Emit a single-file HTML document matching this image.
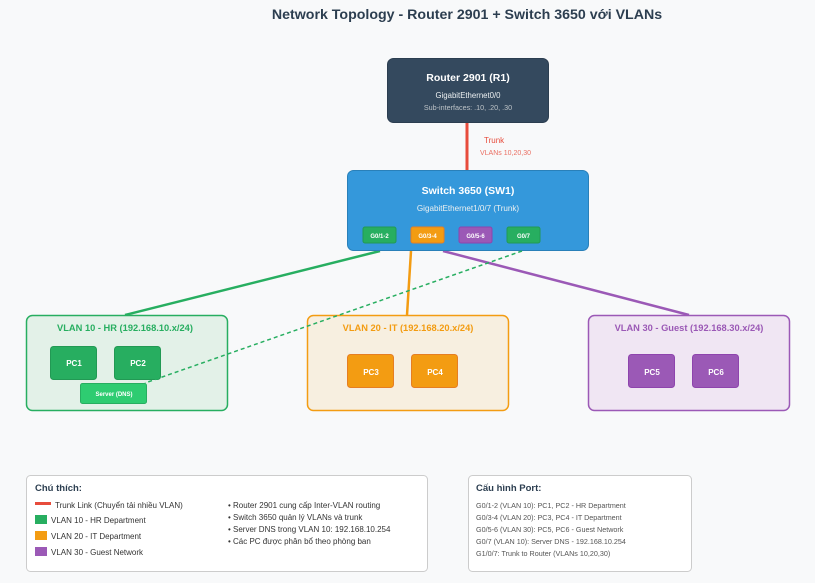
<!DOCTYPE html>
<html><head><meta charset="utf-8"><style>
html,body{margin:0;padding:0;background:#f8f9fa;}
svg{display:block;font-family:"Liberation Sans","DejaVu Sans",sans-serif;}
</style></head><body>
<svg width="815" height="583" viewBox="0 0 815 583" xmlns="http://www.w3.org/2000/svg">
<rect width="815" height="583" fill="#f8f9fa"/>
<text x="467" y="19" text-anchor="middle" font-size="14.2" font-weight="bold" fill="#2c3e50">Network Topology - Router 2901 + Switch 3650 với VLANs</text>

<line x1="467" y1="122" x2="467" y2="171" stroke="#e74c3c" stroke-width="3"/>
<text x="484" y="143" font-size="8" fill="#e74c3c">Trunk</text>
<text x="480" y="155" font-size="7" fill="#e74c3c" opacity="0.8">VLANs 10,20,30</text>

<line x1="380" y1="251" x2="125" y2="315" stroke="#27ae60" stroke-width="2.5"/>
<line x1="411" y1="251" x2="407" y2="315" stroke="#f39c12" stroke-width="2.5"/>
<line x1="443" y1="251" x2="689" y2="315" stroke="#9b59b6" stroke-width="2.5"/>

<rect x="387.5" y="58.5" width="161" height="64" rx="6" fill="#34495e" stroke="#2c3e50"/>
<text x="468" y="81" text-anchor="middle" font-size="10.5" font-weight="bold" fill="#fff">Router 2901 (R1)</text>
<text x="468" y="98" text-anchor="middle" font-size="7.8" fill="#ecf0f1">GigabitEthernet0/0</text>
<text x="468" y="110" text-anchor="middle" font-size="7.2" fill="#bdc3c7">Sub-interfaces: .10, .20, .30</text>

<rect x="347.5" y="170.5" width="241" height="80" rx="6" fill="#3498db" stroke="#2980b9"/>
<text x="468" y="194" text-anchor="middle" font-size="10.5" font-weight="bold" fill="#fff">Switch 3650 (SW1)</text>
<text x="468" y="211" text-anchor="middle" font-size="8.1" fill="#ecf0f1">GigabitEthernet1/0/7 (Trunk)</text>
<g font-size="6" font-weight="bold" fill="#fff" text-anchor="middle">
<rect x="363" y="227" width="33" height="16" rx="2" fill="#27ae60" stroke="#229954"/><text x="379.5" y="238">G0/1-2</text>
<rect x="411" y="227" width="33" height="16" rx="2" fill="#f39c12" stroke="#e67e22"/><text x="427.5" y="238">G0/3-4</text>
<rect x="459" y="227" width="33" height="16" rx="2" fill="#9b59b6" stroke="#8e44ad"/><text x="475.5" y="238">G0/5-6</text>
<rect x="507" y="227" width="33" height="16" rx="2" fill="#27ae60" stroke="#229954"/><text x="523.5" y="238">G0/7</text>
</g>

<rect x="26.5" y="315.5" width="201" height="95" rx="6" fill="#e3f1e8" stroke="#27ae60" stroke-width="1.5"/>
<text x="125" y="331" text-anchor="middle" font-size="9.3" font-weight="bold" fill="#27ae60">VLAN 10 - HR (192.168.10.x/24)</text>
<rect x="50.5" y="346.5" width="46" height="33" rx="3" fill="#27ae60" stroke="#229954"/>
<text x="74" y="366" text-anchor="middle" font-size="8" font-weight="bold" fill="#fff">PC1</text>
<rect x="114.5" y="346.5" width="46" height="33" rx="3" fill="#27ae60" stroke="#229954"/>
<text x="138" y="366" text-anchor="middle" font-size="8" font-weight="bold" fill="#fff">PC2</text>
<rect x="80.5" y="383.5" width="66" height="20" rx="2" fill="#2ecc71" stroke="#27ae60"/>
<text x="114" y="396" text-anchor="middle" font-size="6" font-weight="bold" fill="#fff">Server (DNS)</text>

<rect x="307.5" y="315.5" width="201" height="95" rx="6" fill="#f7efe0" stroke="#f39c12" stroke-width="1.5"/>
<text x="408" y="331" text-anchor="middle" font-size="9.3" font-weight="bold" fill="#f39c12">VLAN 20 - IT (192.168.20.x/24)</text>
<rect x="347.5" y="354.5" width="46" height="33" rx="3" fill="#f39c12" stroke="#e67e22"/>
<text x="371" y="375" text-anchor="middle" font-size="8" font-weight="bold" fill="#fff">PC3</text>
<rect x="411.5" y="354.5" width="46" height="33" rx="3" fill="#f39c12" stroke="#e67e22"/>
<text x="435" y="375" text-anchor="middle" font-size="8" font-weight="bold" fill="#fff">PC4</text>

<rect x="588.5" y="315.5" width="201" height="95" rx="6" fill="#f0e6f3" stroke="#9b59b6" stroke-width="1.5"/>
<text x="689" y="331" text-anchor="middle" font-size="9.3" font-weight="bold" fill="#9b59b6">VLAN 30 - Guest (192.168.30.x/24)</text>
<rect x="628.5" y="354.5" width="46" height="33" rx="3" fill="#9b59b6" stroke="#8e44ad"/>
<text x="652" y="375" text-anchor="middle" font-size="8" font-weight="bold" fill="#fff">PC5</text>
<rect x="692.5" y="354.5" width="46" height="33" rx="3" fill="#9b59b6" stroke="#8e44ad"/>
<text x="716" y="375" text-anchor="middle" font-size="8" font-weight="bold" fill="#fff">PC6</text>

<line x1="522" y1="251" x2="145" y2="383" stroke="#27ae60" stroke-width="1.5" stroke-dasharray="4,3"/>

<rect x="26.5" y="475.5" width="401" height="96" rx="4" fill="#fff" stroke="#ccc"/>
<text x="35" y="491" font-size="9.5" font-weight="bold" fill="#2c3e50">Chú thích:</text>
<rect x="35" y="502" width="16" height="3" fill="#e74c3c"/>
<text x="55" y="508" font-size="8" fill="#333">Trunk Link (Chuyển tải nhiều VLAN)</text>
<rect x="35" y="515" width="12" height="9" fill="#27ae60"/>
<text x="51" y="523" font-size="8" fill="#333">VLAN 10 - HR Department</text>
<rect x="35" y="531" width="12" height="9" fill="#f39c12"/>
<text x="51" y="539" font-size="8" fill="#333">VLAN 20 - IT Department</text>
<rect x="35" y="547" width="12" height="9" fill="#9b59b6"/>
<text x="51" y="555" font-size="8" fill="#333">VLAN 30 - Guest Network</text>
<g font-size="8" fill="#333">
<text x="228" y="508">• Router 2901 cung cấp Inter-VLAN routing</text>
<text x="228" y="520">• Switch 3650 quản lý VLANs và trunk</text>
<text x="228" y="532">• Server DNS trong VLAN 10: 192.168.10.254</text>
<text x="228" y="544">• Các PC được phân bổ theo phòng ban</text>
</g>

<rect x="468.5" y="475.5" width="223" height="96" rx="4" fill="#fff" stroke="#ccc"/>
<text x="476" y="491" font-size="9.5" font-weight="bold" fill="#2c3e50">Cấu hình Port:</text>
<g font-size="7.2" fill="#555">
<text x="476" y="508">G0/1-2 (VLAN 10): PC1, PC2 - HR Department</text>
<text x="476" y="520">G0/3-4 (VLAN 20): PC3, PC4 - IT Department</text>
<text x="476" y="532">G0/5-6 (VLAN 30): PC5, PC6 - Guest Network</text>
<text x="476" y="544">G0/7 (VLAN 10): Server DNS - 192.168.10.254</text>
<text x="476" y="556">G1/0/7: Trunk to Router (VLANs 10,20,30)</text>
</g>
</svg>
</body></html>
